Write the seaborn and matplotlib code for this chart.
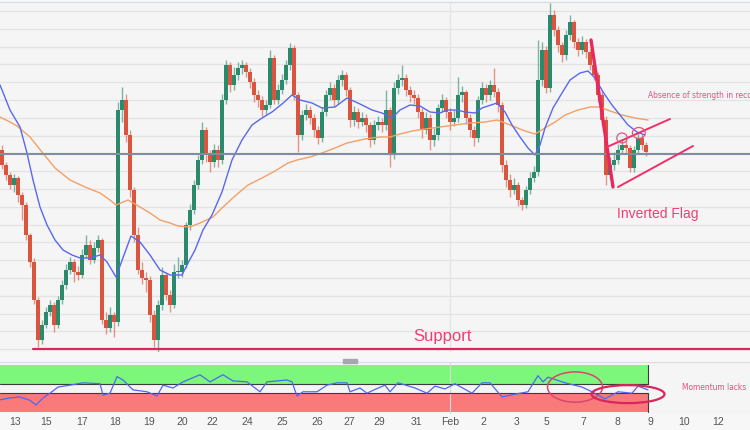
import numpy as np
import pandas as pd
import matplotlib
matplotlib.use('Agg')
import matplotlib.pyplot as plt
from matplotlib.patches import Ellipse, Rectangle
import seaborn as sns

# Price data (hand), one entry per candle
first_open = 202
closes = [187, 177, 167, 174, 157, 147, 117, 90, 52, 12,
          27, 40, 47, 27, 52, 67, 82, 90, 80, 77,
          97, 107, 92, 104, 112, 32, 24, 37, 30, 242,
          252, 217, 162, 117, 82, 74, 72, 37, 12, 47,
          77, 57, 47, 80, 80, 87, 127, 142, 167, 192,
          222, 197, 190, 202, 192, 252, 287, 267, 277, 284,
          287, 280, 270, 257, 252, 242, 247, 294, 252, 262,
          272, 287, 304, 257, 217, 237, 242, 234, 222, 214,
          240, 257, 264, 252, 272, 277, 262, 232, 240, 230,
          234, 227, 212, 227, 230, 227, 242, 197, 264, 272,
          274, 262, 257, 254, 240, 222, 234, 212, 217, 244,
          252, 240, 230, 234, 257, 260, 234, 222, 214, 252,
          264, 257, 267, 260, 247, 187, 172, 162, 167, 152,
          147, 162, 174, 180, 272, 302, 264, 337, 322, 307,
          297, 317, 330, 310, 302, 310, 300, 287, 277, 257,
          232, 177, 187, 192, 202, 207, 204, 184, 202, 214,
          207, 200]
highs = [207, 190, 180, 178, 176, 160, 150, 119, 94, 55,
         32, 45, 52, 50, 56, 72, 88, 95, 93, 86,
         103, 117, 112, 110, 117, 114, 40, 45, 40, 250,
         265, 258, 222, 165, 125, 90, 80, 76, 42, 52,
         85, 80, 62, 88, 95, 92, 130, 148, 172, 197,
         230, 225, 202, 208, 207, 258, 292, 290, 285, 290,
         292, 290, 284, 274, 262, 256, 252, 302, 297, 268,
         278, 292, 309, 307, 260, 242, 248, 246, 238, 226,
         245, 262, 270, 268, 277, 282, 280, 265, 246, 244,
         240, 238, 230, 232, 236, 234, 262, 245, 270, 278,
         287, 278, 266, 262, 258, 244, 240, 238, 224, 248,
         258, 255, 244, 242, 275, 266, 262, 238, 226, 256,
         270, 268, 272, 284, 264, 250, 192, 178, 174, 170,
         155, 166, 180, 186, 312, 310, 306, 349, 342, 326,
         310, 322, 337, 332, 314, 316, 313, 303, 290, 280,
         262, 236, 195, 200, 208, 213, 212, 207, 206, 219,
         218, 210]
lows = [183, 172, 163, 160, 150, 132, 112, 85, 48, 5,
        8, 24, 36, 20, 24, 48, 63, 78, 70, 72,
        74, 94, 88, 89, 100, 28, 18, 20, 15, 26,
        230, 210, 155, 110, 78, 68, 60, 30, 5, -3,
        42, 52, 40, 44, 74, 75, 84, 122, 138, 163,
        188, 190, 180, 185, 185, 188, 248, 260, 262, 272,
        278, 275, 264, 250, 245, 236, 238, 244, 248, 248,
        258, 268, 282, 252, 200, 212, 232, 228, 215, 208,
        210, 236, 252, 246, 248, 266, 256, 225, 226, 224,
        226, 220, 205, 208, 222, 220, 222, 185, 193, 258,
        266, 256, 250, 248, 234, 214, 218, 202, 206, 212,
        240, 234, 222, 226, 230, 250, 228, 215, 206, 210,
        248, 250, 252, 255, 240, 180, 165, 155, 158, 146,
        142, 144, 158, 170, 176, 266, 259, 260, 316, 300,
        290, 292, 312, 304, 296, 298, 294, 282, 272, 250,
        226, 167, 172, 182, 188, 198, 198, 180, 180, 198,
        202, 196]

# moving averages, read at selected candles
ma_fast_x = [-0.5, 2, 4.5, 6.25, 7.75, 9.5, 11.25, 13.25, 15.25, 17.5, 19.5, 22, 24.5,
             26.25, 28.5, 30.5, 32.25, 34.5, 37, 39.5, 42, 45, 46.25, 48.25, 50.25,
             52.5, 55, 57.5, 60, 62.5, 65, 67.5, 70, 72.5, 74.5, 77.5, 80, 83.25,
             86.25, 89.5, 92.5, 95, 97.5, 99.5, 102, 104.5, 107, 109.5, 111.25,
             113.75, 115.75, 118.25, 120, 123.75, 125.75, 127.5, 129.5, 131.5,
             133.25, 134.5, 135.75, 137.75, 140, 142, 144.5, 146.5, 148.25, 150.25,
             152.5, 154.5, 156.5, 158.75, 160.75]
ma_fast_y = [267, 242, 225, 199, 172, 145, 127, 112, 102, 97, 94, 94, 97,
             90, 75, 97, 116, 110, 97, 82, 77, 77, 87, 102, 122,
             137, 160, 192, 212, 227, 234, 240, 248, 257, 252, 249, 244, 245,
             254, 248, 242, 239, 234, 242, 247, 246, 240, 239, 242,
             242, 240, 239, 244, 249, 240, 227, 215, 204,
             197, 207, 224, 244, 259, 272, 279, 281, 274, 260,
             247, 237, 227, 220, 217]
ma_slow_x = [-0.5, 2, 3.75, 7, 10, 13.25, 17, 20.75, 24.5, 27, 28.5, 31.5, 34.5, 37,
             39.5, 42, 44, 47, 49.5, 52.75, 55, 58.25, 61.5, 65, 68.25, 71.5, 73.75,
             77, 80, 83.25, 86.25, 90.75, 94.5, 97, 99.5, 102.5, 105.75, 109.5,
             113.25, 117, 120.75, 123.75, 125.75, 128.25, 130.75, 133.25, 135.75,
             138.25, 140.75, 144, 147, 149.5, 152, 155, 158.25, 161.5]
ma_slow_y = [235, 230, 226, 215, 200, 184, 172, 165, 159, 152, 147, 152, 145, 139,
             132, 129, 126, 125, 129, 135, 144, 156, 167, 174, 181, 189, 192,
             195, 199, 204, 209, 213, 215, 215, 218, 221, 223, 225,
             227, 229, 230, 232, 229, 225, 221, 218, 224,
             230, 237, 242, 245, 245, 241, 237, 234, 232]

# oscillator in the lower panel
rsi_x = [-0.5, 2, 4.5, 7, 8.5, 10.25, 12, 14, 17, 20.25, 24.5, 25.25, 27, 28.75,
         30.25, 32.75, 36.25, 38.75, 40.25, 42.75, 45.25, 49.5, 52, 55.25, 57.75,
         61.25, 64.5, 66.25, 71.25, 72.5, 73.75, 75.25, 78.75, 81.25, 83.75, 86.25,
         87, 89.5, 91.25, 93.25, 95.75, 97, 99, 103.25, 106.25, 108.25, 110.75,
         113.25, 117.5, 120, 122, 125, 128.25, 131.5, 134, 135.25, 136.5, 140.75,
         145, 147.5, 150.75, 154, 157.5, 159, 161.5]
rsi_y = [26, 30, 32, 25, 15, 30, 40, 53, 57, 62, 60, 36, 40, 75,
         68, 47, 43, 34, 57, 51, 64, 79, 64, 79, 66,
         64, 43, 64, 68, 64, 34, 43, 43, 57, 62, 62,
         43, 51, 40, 48, 57, 43, 62, 51, 40, 55, 49,
         60, 40, 62, 62, 32, 38, 43, 77, 64, 74, 62,
         53, 43, 28, 43, 40, 55, 47]

tick_pos = [3.25, 11, 20, 28.25, 36.75, 45, 52.5, 61.25, 70, 78.75, 86.75, 94.25,
            103.5, 112, 120.25, 128.75, 136, 145.25, 153.75, 162, 170.5, 179]
tick_labels = ['13', '15', '17', '18', '19', '20', '22', '24', '25', '26', '27', '29',
               '31', 'Feb', '2', '3', '5', '7', '8', '9', '10', '12']

last_price = 198
support_level = 3

# hand drawn pattern lines
steep_x, steep_y = [147.25, 152.75], [312, 165]
flag_top_x, flag_top_y = [151.25, 167], [205, 233]
flag_bot_x, flag_bot_y = [154, 172.75], [165, 206]

df = pd.DataFrame({'close': closes, 'high': highs, 'low': lows})
df['open'] = [first_open] + closes[:-1]
df['up'] = df['close'] >= df['open']

green = '#2a8a6b'
red = '#d9553d'
pink = '#ee2f68'

sns.set_style('white')
plt.rcParams['font.family'] = ['Liberation Sans', 'DejaVu Sans']
narrow = dict(family=['DejaVu Sans'], fontstretch='condensed')

fig = plt.figure(figsize=(7.5, 4.3), dpi=100, facecolor='#f7f7f7')
ax = fig.add_axes([0, 78 / 430, 1, 350 / 430])
ax2 = fig.add_axes([0, 16 / 430, 1, 52 / 430], sharex=ax)

# Main panel
ax.set_facecolor('#f5f5f5')
ax.set_yticks(np.arange(341, 0, -17.8))
ax.grid(axis='y', color='#e3e3e3', lw=0.9)
ax.axvline(112, color='#e4e4e4', lw=0.9)
ax.tick_params(length=0, labelleft=False, labelbottom=False)

colors = np.where(df['up'], green, red)
ax.vlines(df.index, df['low'], df['high'], colors=colors, lw=1.0, alpha=0.6, zorder=2)
body = (df['close'] - df['open']).abs().clip(lower=1.5)
ax.bar(df.index, body, bottom=df[['open', 'close']].min(axis=1), width=0.8,
       color=colors, lw=0, zorder=3)

sns.lineplot(x=ma_slow_x, y=ma_slow_y, ax=ax, color='#f3a066', lw=1, zorder=4)
sns.lineplot(x=ma_fast_x, y=ma_fast_y, ax=ax, color='#5868f0', lw=1, zorder=4)

ax.axhline(last_price, color='#7f8ca4', lw=1.5, zorder=4)
ax.plot([7.75, 187], [support_level, support_level], color='#e0245e', lw=1.6, zorder=5)

ax.plot(steep_x, steep_y, color='#e8285f', lw=2.4, zorder=6)
ax.plot(flag_top_x, flag_top_y, color=pink, lw=1.4, zorder=6)
ax.plot(flag_bot_x, flag_bot_y, color=pink, lw=1.4, zorder=6)
ax.add_patch(Ellipse((155, 214), 2.6, 10, fill=False, ec='#e8507c', lw=0.9, zorder=6))
ax.add_patch(Ellipse((159.2, 219), 3.2, 11, fill=False, ec='#e8507c', lw=0.9, zorder=6))

ax.text(161.5, 257, 'Absence of strength in recovery moves', color='#ee4f7f',
        fontsize=6, va='center', **narrow)
ax.text(153.75, 138, 'Inverted Flag', color='#ee3f72', fontsize=10, va='center')
ax.text(102.75, 16, 'Support', color='#ee3f72', fontsize=12, va='center')

ax.set_xlim(-0.5, 187)
ax.set_ylim(0, 350)
for s in ['left', 'right', 'bottom']:
    ax.spines[s].set_visible(False)
ax.spines['top'].set_color('#d3d9e8')

# Lower panel
ax2.set_facecolor('#f5f5f5')
ax2.add_patch(Rectangle((-0.5, 60), 162, 40, color='#7cf77c', lw=0, zorder=1))
ax2.add_patch(Rectangle((-0.5, 0), 162, 40, color='#f97a7a', lw=0, zorder=1))
ax2.plot([-0.5, 161.5], [60, 60], color='#3c3c3c', lw=0.8, zorder=2)
ax2.plot([-0.5, 161.5], [40, 40], color='#3c3c3c', lw=0.8, zorder=2)
ax2.plot([161.5, 161.5], [60, 100], color='#3c3c3c', lw=0.8, zorder=2)
ax2.plot([161.5, 161.5], [0, 40], color='#3c3c3c', lw=0.8, zorder=2)
ax2.axvline(112, color='#d8d8d8', lw=0.8, zorder=1.5)

sns.lineplot(x=rsi_x, y=rsi_y, ax=ax2, color='#4d68f2', lw=0.9, zorder=3)

ax2.add_patch(Ellipse((143.25, 53), 13.75, 64, fill=False, ec='#d9466e', lw=1.1, zorder=4))
ax2.add_patch(Ellipse((156.5, 38), 18.25, 38, fill=False, ec='#d9265c', lw=1.6, zorder=4))
ax2.text(170, 51, 'Momentum lacks  strength', color='#ee4f7f', fontsize=6,
         va='center', **narrow)

ax2.set_ylim(-4, 106)
ax2.set_yticks([])
ax2.set_xticks(tick_pos)
ax2.set_xticklabels(tick_labels)
ax2.tick_params(axis='x', length=0, labelsize=7.5, labelcolor='#555555', pad=2)
for s in ['left', 'right', 'bottom']:
    ax2.spines[s].set_visible(False)
ax2.spines['top'].set_color('#dcdcdc')

# panel separator handle
fig.add_artist(Rectangle((343 / 750, 67 / 430), 14 / 750, 4 / 430,
                         transform=fig.transFigure, color='#a8a8a8'))

fig.savefig('out.png', dpi=100, facecolor=fig.get_facecolor())
